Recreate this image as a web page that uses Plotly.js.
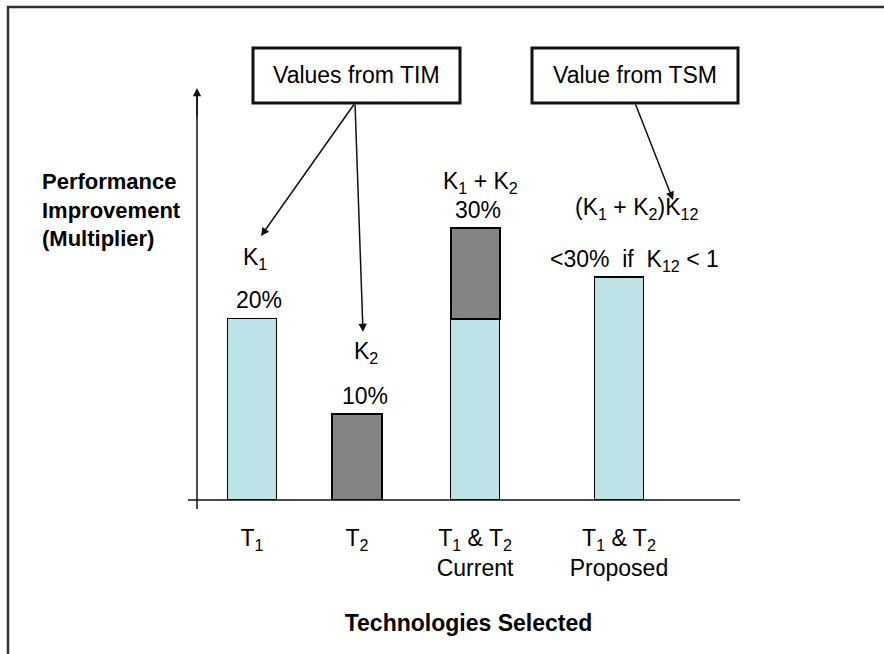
<!DOCTYPE html>
<html>
<head>
<meta charset="utf-8">
<script src="https://cdn.plot.ly/plotly-3.0.1.min.js"></script>
<style>html,body{margin:0;padding:0;background:#fff;}#chart{width:884px;height:654px;}</style>
</head>
<body>
<div id="chart"></div>
<script>
// ---- data ----
const categories = ["T<sub>1</sub>", "T<sub>2</sub>", "T<sub>1</sub> & T<sub>2</sub><br>Current", "T<sub>1</sub> & T<sub>2</sub><br>Proposed"];
const slotX = [1, 2, 3.124, 4.495];
const lightValues = [20, null, 20, 24.6];
const darkValues = [null, 9.5, 10, null];
const barLabels = [
  ["K<sub>1</sub>", "20%"],
  ["K<sub>2</sub>", "10%"],
  ["K<sub>1</sub> + K<sub>2</sub>", "30%"],
  ["(K<sub>1</sub> + K<sub>2</sub>)K<sub>12</sub>", "&lt;30%  if  K<sub>12</sub> &lt; 1"]
];
const sourceBoxes = ["Values from TIM", "Value from TSM"];

// ---- geometry helpers (plot area in page pixels) ----
const L = 197, R = 740, T = 88, B = 500, W = 884, H = 654;
const px = v => (v - L) / (R - L);
const py = v => (B - v) / (B - T);

const font = "Liberation Sans, Arial, sans-serif";
const FS = 23;

const traces = [
  {type: "bar", x: slotX, y: lightValues, width: 0.467,
   marker: {color: "#BEE3E7", line: {color: "#000", width: 1.6}}, hoverinfo: "skip"},
  {type: "bar", x: slotX, y: darkValues, width: 0.467,
   marker: {color: "#858385", line: {color: "#000", width: 2}}, hoverinfo: "skip"}
];

const labelPos = [[[255, 258], [259, 300]], [[366, 352], [365, 396]], [[480, 182], [478, 210]], [[636, 208], [634, 260]]];
const annotations = [];
barLabels.forEach((pair, i) => {
  pair.forEach((t, j) => {
    annotations.push({xref: "paper", yref: "paper", x: px(labelPos[i][j][0]), y: py(labelPos[i][j][1]),
      text: t, showarrow: false, xanchor: "center", yanchor: "middle", font: {family: font, size: FS, color: "#000"}});
  });
});
const boxCenters = [[356, 75], [635, 75]];
sourceBoxes.forEach((t, i) => {
  annotations.push({xref: "paper", yref: "paper", x: px(boxCenters[i][0]), y: py(boxCenters[i][1]),
    text: t, showarrow: false, xanchor: "center", yanchor: "middle", font: {family: font, size: FS, color: "#000"}});
});
// y title
annotations.push({xref: "paper", yref: "paper", x: px(40), y: py(210), xanchor: "left", yanchor: "middle", align: "left",
  text: "<b>Performance<br>Improvement<br>(Multiplier)</b>", showarrow: false, font: {family: font, size: 22, color: "#000"}});
// arrows
const arrows = [[261, 236, 355, 103], [363, 332, 355, 103], [673, 200, 635, 103], [197, 88, 197, 118]];
arrows.forEach(a => {
  annotations.push({xref: "paper", yref: "paper", x: px(a[0]), y: py(a[1]), ax: a[2] - a[0], ay: a[3] - a[1],
    text: "", showarrow: true, arrowhead: 2, arrowsize: 1.1, arrowwidth: 1.5, arrowcolor: "#111", standoff: 0});
});

const shapes = [
  // outer frame
  {type: "rect", xref: "paper", yref: "paper", x0: px(8), x1: px(W + 20), y0: py(7), y1: py(H + 20), line: {color: "#333", width: 2.5}},
  // source boxes
  {type: "rect", xref: "paper", yref: "paper", x0: px(253), x1: px(460), y0: py(48), y1: py(103), line: {color: "#111", width: 3}},
  {type: "rect", xref: "paper", yref: "paper", x0: px(532), x1: px(738), y0: py(48), y1: py(103), line: {color: "#111", width: 3}},
  // y axis
  {type: "line", xref: "paper", yref: "paper", x0: px(197), x1: px(197), y0: py(509), y1: py(92), line: {color: "#111", width: 1.5}},
  // x axis
  {type: "line", xref: "paper", yref: "paper", x0: px(188), x1: px(R), y0: py(B), y1: py(B), line: {color: "#111", width: 1.5}}
];

const layout = {
  width: W, height: H,
  margin: {l: L, r: W - R, t: T, b: H - B, pad: 0},
  paper_bgcolor: "#fff", plot_bgcolor: "rgba(0,0,0,0)",
  barmode: "stack", showlegend: false,
  xaxis: {range: [1 - 55 / 105, 1 + (R - 252) / 105], tickvals: slotX, ticktext: categories, showgrid: false, zeroline: false,
    showline: false, ticks: "", ticklabelstandoff: 22, tickfont: {family: font, size: FS, color: "#000"}, fixedrange: true,
    title: {text: "<b>Technologies Selected</b>", standoff: 34, font: {family: font, size: FS, color: "#000"}}},
  yaxis: {range: [0, (B - T) / (272 / 30)], showgrid: false, zeroline: false, showline: false, showticklabels: false, ticks: "", fixedrange: true},
  annotations: annotations, shapes: shapes
};
Plotly.newPlot("chart", traces, layout, {displayModeBar: false, staticPlot: true});
</script>
</body>
</html>
